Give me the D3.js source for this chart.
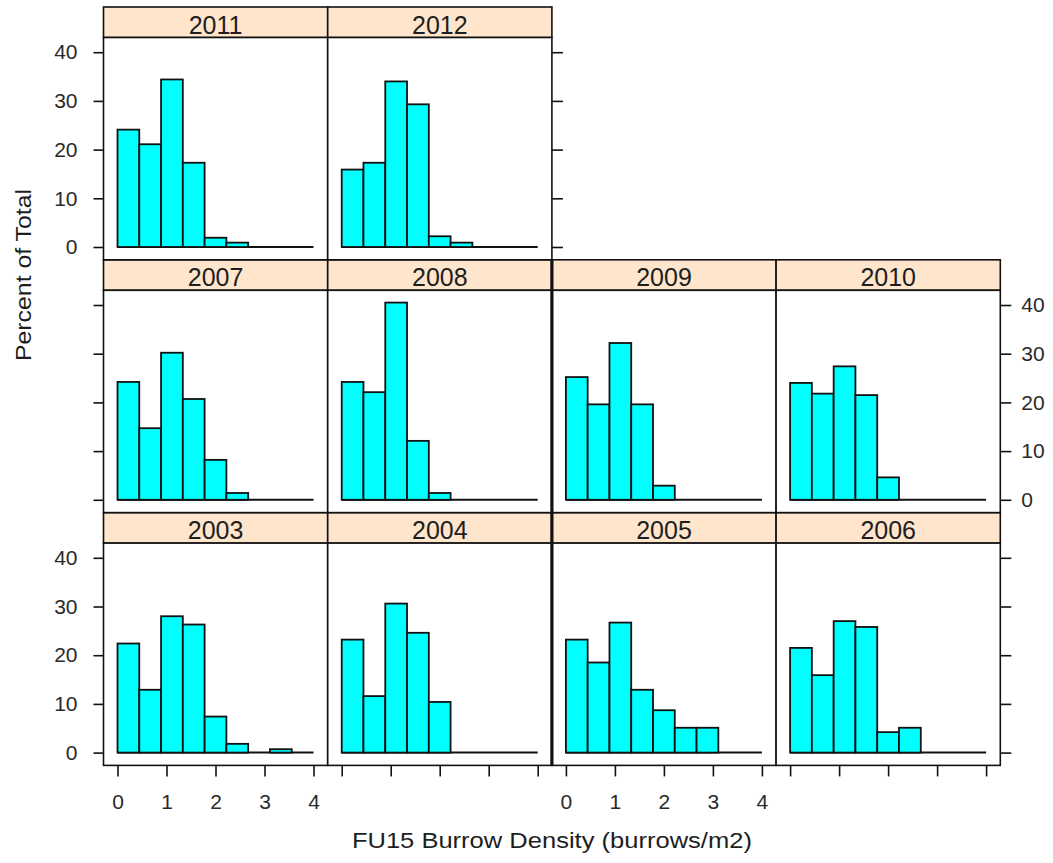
<!DOCTYPE html>
<html>
<head>
<meta charset="utf-8">
<script src="https://cdn.jsdelivr.net/npm/d3@7"></script>
<style>
    body { margin: 0; background: #fff; }
    svg text { font-family: "Liberation Sans", Arial, sans-serif; fill: #1e1e1e; }
</style>
</head>
<body>
<div id="chart"></div>
<script>

// histogram breaks, burrows/m2 (9 bins over 0..4)
const breaks = [0, 0.444, 0.889, 1.333, 1.778, 2.222, 2.667, 3.111, 3.556, 4];

// percent of total in each bin
const pct2003 = [22.4, 12.9, 28.0, 26.3, 7.4, 1.8, 0, 0.7, 0];
const pct2004 = [23.2, 11.6, 30.6, 24.6, 10.4, 0, 0, 0, 0];
const pct2005 = [23.2, 18.5, 26.7, 12.9, 8.7, 5.1, 5.1, 0, 0];
const pct2006 = [21.5, 15.9, 27.0, 25.8, 4.2, 5.1, 0, 0, 0];
const pct2007 = [24.2, 14.7, 30.2, 20.7, 8.2, 1.4, 0, 0, 0];
const pct2008 = [24.2, 22.1, 40.5, 12.1, 1.4, 0, 0, 0, 0];
const pct2009 = [25.2, 19.6, 32.2, 19.6, 2.9, 0, 0, 0, 0];
const pct2010 = [24.0, 21.8, 27.4, 21.5, 4.6, 0, 0, 0, 0];
const pct2011 = [24.1, 21.1, 34.4, 17.3, 1.9, 0.9, 0, 0, 0];
const pct2012 = [15.9, 17.3, 34.0, 29.3, 2.2, 0.9, 0, 0, 0];

const years = [2003, 2004, 2005, 2006, 2007, 2008, 2009, 2010, 2011, 2012];
const percents = [pct2003, pct2004, pct2005, pct2006, pct2007, pct2008, pct2009, pct2010, pct2011, pct2012];

const xTicks = [0, 1, 2, 3, 4];
const yTicks = [0, 10, 20, 30, 40];

const xLabel = "FU15 Burrow Density (burrows/m2)";
const yLabel = "Percent of Total";

class LatticeHist {

    constructor(parentElement) {
        this.parentElement = parentElement;
        this.initVis();
    }

    initVis() {
        let vis = this;

        vis.width = 1053;
        vis.height = 863;

        // panel grid (lattice fills from bottom-left)
        vis.left = 103.5;
        vis.top = 7;
        vis.colW = 224.2;
        vis.rowH = 252.8;
        vis.stripH = 30.5;
        vis.panelH = vis.rowH - vis.stripH;
        vis.nCol = 4;
        vis.nRow = 3;

        vis.svg = d3.select("#" + vis.parentElement).append("svg")
            .attr("width", vis.width)
            .attr("height", vis.height);

        vis.x = d3.scaleLinear()
            .domain([-0.286, 4.29])
            .range([0, vis.colW]);

        vis.y = d3.scaleLinear()
            .domain([-2.63, 43.02])
            .range([vis.panelH, 0]);

        vis.panels = years.map((yr, i) => ({
            year: yr,
            values: percents[i],
            col: i % vis.nCol,
            row: vis.nRow - 1 - Math.floor(i / vis.nCol)
        }));

        vis.drawPanels();
        vis.drawAxes();
        vis.drawLabels();
    }

    panelX(col) { return this.left + col * this.colW; }
    panelY(row) { return this.top + row * this.rowH + this.stripH; }

    drawPanels() {
        let vis = this;

        let g = vis.svg.selectAll(".panel")
            .data(vis.panels)
            .enter()
            .append("g")
            .attr("class", "panel")
            .attr("transform", d => `translate(${vis.panelX(d.col)},${vis.panelY(d.row)})`);

        // strip
        g.append("rect")
            .attr("x", 0)
            .attr("y", -vis.stripH)
            .attr("width", vis.colW)
            .attr("height", vis.stripH)
            .attr("fill", "#ffe5cc")
            .attr("stroke", "#111")
            .attr("stroke-width", 1.6);

        g.append("text")
            .attr("x", vis.colW / 2)
            .attr("y", -4)
            .attr("text-anchor", "middle")
            .style("font-size", "25px")
            .text(d => d.year);

        // panel box
        g.append("rect")
            .attr("width", vis.colW)
            .attr("height", vis.panelH)
            .attr("fill", "#fff")
            .attr("stroke", "#111")
            .attr("stroke-width", 1.6);

        // zero-height bins show as the baseline
        g.append("line")
            .attr("x1", vis.x(breaks[0]))
            .attr("x2", vis.x(breaks[breaks.length - 1]))
            .attr("y1", vis.y(0))
            .attr("y2", vis.y(0))
            .attr("stroke", "#111")
            .attr("stroke-width", 2);

        g.selectAll(".bar")
            .data(d => d.values.map((v, i) => ({v: v, x0: breaks[i], x1: breaks[i + 1]})).filter(b => b.v > 0))
            .enter()
            .append("rect")
            .attr("class", "bar")
            .attr("x", b => vis.x(b.x0))
            .attr("width", b => vis.x(b.x1) - vis.x(b.x0))
            .attr("y", b => vis.y(b.v))
            .attr("height", b => vis.y(0) - vis.y(b.v))
            .attr("fill", "#00ffff")
            .attr("stroke", "#111")
            .attr("stroke-width", 1.8);

        // the doubled border between columns 2 and 3
        vis.svg.append("line")
            .attr("x1", vis.panelX(2))
            .attr("x2", vis.panelX(2))
            .attr("y1", vis.top + vis.rowH)
            .attr("y2", vis.top + 3 * vis.rowH)
            .attr("stroke", "#111")
            .attr("stroke-width", 3.2);
    }

    styleAxis(sel, showText) {
        sel.select(".domain").remove();
        sel.selectAll(".tick line").attr("stroke", "#111").attr("stroke-width", 1.6);
        sel.selectAll(".tick text")
            .style("font-size", "21px")
            .style("fill", "#2a2a2a")
            .style("display", showText ? null : "none");
    }

    drawAxes() {
        let vis = this;
        let fmt = d3.format("d");

        // left: labels on rows 0 and 2
        for (let r = 0; r < vis.nRow; r++) {
            let show = r !== 1;
            vis.svg.append("g")
                .attr("class", "y-axis axis")
                .attr("transform", `translate(${vis.panelX(0)},${vis.panelY(r)})`)
                .call(d3.axisLeft(vis.y).tickValues(yTicks).tickFormat(fmt).tickSize(10).tickPadding(16))
                .call(sel => vis.styleAxis(sel, show));
        }

        // right: top row ends after column 2; labels only on the middle row
        let rightCols = [2, 4, 4];
        rightCols.forEach((c, r) => {
            vis.svg.append("g")
                .attr("class", "y-axis axis")
                .attr("transform", `translate(${vis.panelX(c)},${vis.panelY(r)})`)
                .call(d3.axisRight(vis.y).tickValues(yTicks).tickFormat(fmt).tickSize(11).tickPadding(10))
                .call(sel => vis.styleAxis(sel, r === 1));
        });

        // bottom: alternate labels
        for (let c = 0; c < vis.nCol; c++) {
            vis.svg.append("g")
                .attr("class", "x-axis axis")
                .attr("transform", `translate(${vis.panelX(c)},${vis.panelY(vis.nRow - 1) + vis.panelH})`)
                .call(d3.axisBottom(vis.x).tickValues(xTicks).tickFormat(fmt).tickSize(11).tickPadding(18))
                .call(sel => vis.styleAxis(sel, c % 2 === 0));
        }
    }

    drawLabels() {
        let vis = this;

        vis.svg.append("text")
            .attr("class", "x-axis-label")
            .attr("x", vis.left + 2 * vis.colW)
            .attr("y", 848)
            .attr("text-anchor", "middle")
            .attr("textLength", 400)
            .attr("lengthAdjust", "spacingAndGlyphs")
            .style("font-size", "22px")
            .text(xLabel);

        vis.svg.append("text")
            .attr("class", "y-axis-label")
            .attr("text-anchor", "middle")
            .attr("textLength", 172)
            .attr("lengthAdjust", "spacingAndGlyphs")
            .attr("transform", "translate(31,275)rotate(-90)")
            .style("font-size", "22px")
            .text(yLabel);
    }
}

new LatticeHist("chart");

</script>
</body>
</html>
